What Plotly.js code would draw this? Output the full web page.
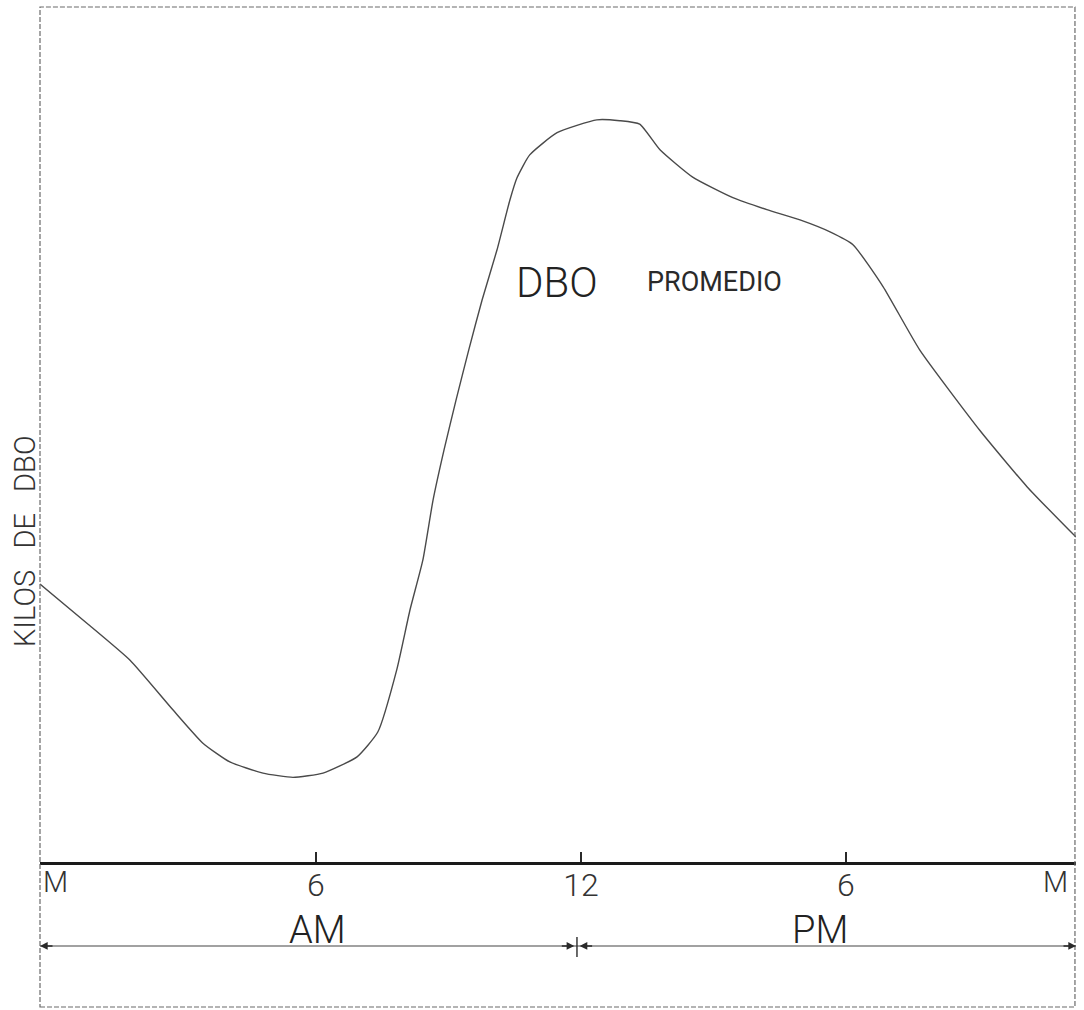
<!DOCTYPE html>
<html>
<head>
<meta charset="utf-8">
<script src="https://cdn.plot.ly/plotly-3.0.1.min.js"></script>
<style>
  html, body { margin: 0; padding: 0; background: #ffffff; }
  #chart { width: 1084px; height: 1010px; }
</style>
</head>
<body>
<div id="chart"></div>
<script>
// Hours of the day (0 = midnight, 12 = noon)
const hours = [-0.25, 0.82, 1.79, 2.76, 3.44, 4.05, 4.80, 5.48, 6.16, 6.93, 7.40, 7.83,
  8.13, 8.42, 8.65, 8.90, 9.17, 9.46, 9.76, 10.10, 10.39, 10.55, 10.84, 11.46,
  12.36, 12.88, 13.33, 13.79, 14.53, 15.44, 16.21, 16.96, 17.64, 18.16, 18.84, 19.67,
  21.03, 22.10, 23.21];
// Average BOD load (relative units, axis has no numeric scale)
const dboKilos = [32.5, 27.9, 23.6, 17.8, 13.9, 11.7, 10.4, 9.9, 10.4, 12.3, 15.2, 22.5,
  29.5, 35.3, 42.3, 48.2, 54.0, 59.9, 65.7, 71.6, 77.4, 80.0, 82.7, 85.3,
  86.8, 86.7, 86.3, 83.3, 80.1, 77.7, 76.3, 75.1, 73.7, 72.2, 67.3, 59.9,
  50.5, 43.9, 38.0];
const tickHours = [6, 12, 18];
const tickLabels = ['6', '12', '6'];
const endLabel = 'M';
const yTitle = 'KILOS\u00A0\u00A0\u00A0DE\u00A0\u00A0\u00A0DBO';
const seriesLabel = 'DBO';
const seriesNote = 'PROMEDIO';
const periodLabels = ['AM', 'PM'];

const ink = '#2a2a2a';
const font = "Roboto, 'DejaVu Sans', sans-serif";
const arrowY = -0.0982;

const trace = {
  x: hours, y: dboKilos, type: 'scatter', mode: 'lines',
  line: { color: '#4a4a4a', width: 1.4, shape: 'spline', smoothing: 0.5 },
  hoverinfo: 'skip', showlegend: false
};

function arrow(xref, x, ax) {
  return { xref: xref, yref: 'paper', x: x, y: arrowY, text: '', showarrow: true,
    arrowhead: 2, arrowsize: 1.1, arrowwidth: 1.4, arrowcolor: ink,
    ax: ax, ay: 0, standoff: 0 };
}

function label(x, y, text, size, extra) {
  return Object.assign({ xref: 'paper', yref: 'paper', x: x, y: y, text: text, showarrow: false,
    xanchor: 'center', yanchor: 'middle',
    font: { family: font, size: size, color: '#222', weight: 300 } }, extra || {});
}

const layout = {
  width: 1084, height: 1010,
  margin: { l: 40, r: 8, t: 7, b: 148 },
  paper_bgcolor: '#ffffff', plot_bgcolor: '#ffffff',
  showlegend: false,
  xaxis: {
    range: [-0.249, 23.21], showgrid: false, zeroline: false,
    showline: true, linecolor: '#1a1a1a', linewidth: 2.6,
    ticks: 'inside', ticklen: 10, tickwidth: 1.4, tickcolor: ink,
    tickmode: 'array', tickvals: tickHours, ticktext: tickLabels,
    tickfont: { family: font, size: 32, color: '#333', weight: 300 },
    ticklabelstandoff: -7, fixedrange: true
  },
  yaxis: {
    range: [0, 100], showgrid: false, zeroline: false, showline: false,
    showticklabels: false, ticks: '', fixedrange: true
  },
  shapes: [
    { type: 'rect', xref: 'paper', yref: 'paper', x0: 0, x1: 0.999, y0: -0.1696, y1: 1,
      line: { color: '#6a6a6a', width: 1.2, dash: '5px,2px' } },
    { type: 'line', xref: 'paper', yref: 'paper', x0: 0, x1: 1, y0: arrowY, y1: arrowY,
      line: { color: '#444', width: 1.1 } },
    { type: 'line', xref: 'x', yref: 'paper', x0: 11.91, x1: 11.91, y0: -0.0877, y1: -0.111,
      line: { color: ink, width: 1.4 } }
  ],
  annotations: [
    label(0, 0.3754, yTitle, 29, { xshift: -15, textangle: -90,
      font: { family: font, size: 29, color: '#333', weight: 300 } }),
    { xref: 'x', yref: 'y', x: 11.46, y: 67.8, text: seriesLabel, showarrow: false,
      xanchor: 'center', yanchor: 'middle',
      font: { family: font, size: 42, color: '#222', weight: 300 } },
    { xref: 'x', yref: 'y', x: 15.03, y: 67.8, text: seriesNote, showarrow: false,
      xanchor: 'center', yanchor: 'middle',
      font: { family: font, size: 27, color: '#2a2a2a', weight: 400 } },
    label(0.268, -0.0795, periodLabels[0], 38),
    label(0.753, -0.0795, periodLabels[1], 38),
    label(0, -0.0235, endLabel, 29, { xanchor: 'left', xshift: 1,
      font: { family: font, size: 29, color: '#333', weight: 300 } }),
    label(1, -0.0235, endLabel, 29, { xanchor: 'right', xshift: -6,
      font: { family: font, size: 29, color: '#333', weight: 300 } }),
    arrow('paper', 0, 14),
    arrow('paper', 1, -14),
    arrow('x', 11.85, -14),
    arrow('x', 11.97, 14)
  ]
};

Plotly.newPlot('chart', [trace], layout, { displayModeBar: false, staticPlot: true });
</script>
</body>
</html>
